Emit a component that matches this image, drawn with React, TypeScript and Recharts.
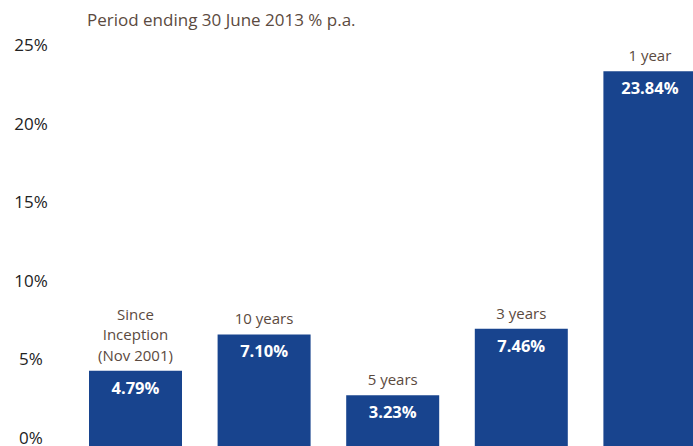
import { BarChart, Bar, XAxis, YAxis, LabelList } from "recharts";

const periods = ["Since Inception (Nov 2001)", "10 years", "5 years", "3 years", "1 year"];
const periodLines = [["Since", "Inception", "(Nov 2001)"], ["10 years"], ["5 years"], ["3 years"], ["1 year"]];
const returns = [4.79, 7.1, 3.23, 7.46, 23.84];
const yTicks = [0, 5, 10, 15, 20, 25];

const data = periods.map((p, i) => ({ period: p, value: returns[i], lines: periodLines[i] }));

const FONT = "'Open Sans', 'Noto Sans', sans-serif";
const BAR = "#18448E";
const BROWN = "#5b4a40";

const YTick = ({ y, payload }: any) => (
  <text x={31} y={y} dy={-2} textAnchor="middle" fontSize={17} fontFamily={FONT} fill="#222">
    {payload.value}%
  </text>
);

const PeriodLabel = ({ x, y, width, index }: any) => {
  const lines = periodLines[index];
  const cx = x + width / 2;
  return (
    <g>
      {lines.map((l: string, i: number) => (
        <text
          key={i}
          x={cx}
          y={y - 10 - (lines.length - 1 - i) * 20.5}
          textAnchor="middle"
          fontSize={15}
          fontFamily={FONT}
          fill={BROWN}
        >
          {l}
        </text>
      ))}
    </g>
  );
};

const ValueLabel = ({ x, y, width, value }: any) => (
  <text
    x={x + width / 2}
    y={y + 23}
    textAnchor="middle"
    fontSize={16.5}
    fontWeight="bold"
    fontFamily={FONT}
    fill="#fff"
  >
    {value.toFixed(2)}%
  </text>
);

export default function App() {
  return (
    <div style={{ position: "absolute", left: 0, top: 0, width: 693, height: 446, overflow: "hidden", background: "#fff" }}>
      <div
        style={{
          position: "absolute",
          left: 87,
          top: 8,
          fontFamily: FONT,
          fontSize: 17,
          color: BROWN,
          whiteSpace: "nowrap",
        }}
      >
        Period ending 30 June 2013 % p.a.
      </div>
      <BarChart
        width={714}
        height={446}
        data={data}
        margin={{ top: 53, right: 0, bottom: 0, left: 0 }}
        barSize={93}
      >
        <XAxis dataKey="period" hide />
        <YAxis
          width={71}
          domain={[0, 25]}
          ticks={yTicks}
          axisLine={false}
          tickLine={false}
          tick={<YTick />}
          interval={0}
        />
        <Bar dataKey="value" fill={BAR} isAnimationActive={false}>
          <LabelList dataKey="value" content={<PeriodLabel />} />
          <LabelList dataKey="value" content={<ValueLabel />} />
        </Bar>
      </BarChart>
    </div>
  );
}
